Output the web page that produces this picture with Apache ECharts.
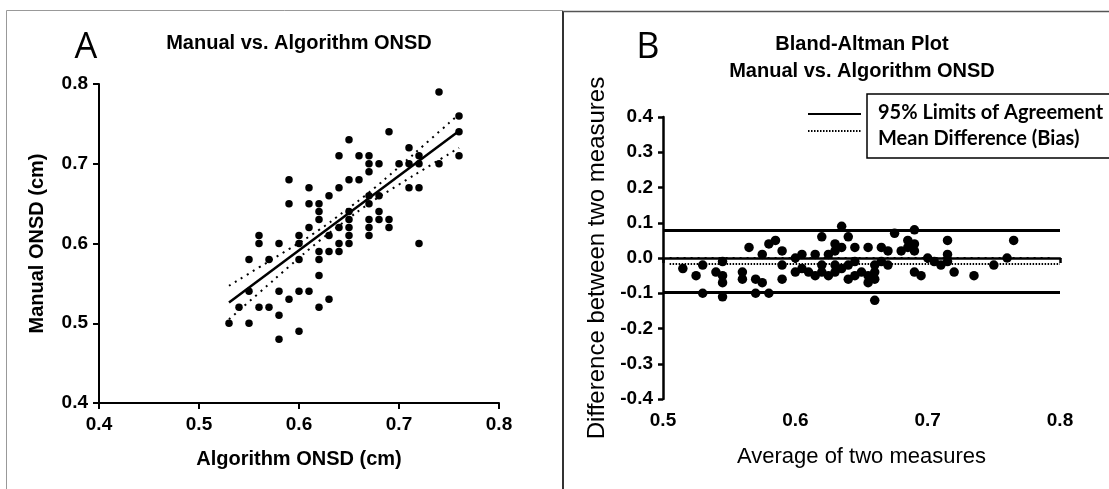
<!DOCTYPE html>
<html>
<head>
<meta charset="utf-8">
<script src="https://cdn.jsdelivr.net/npm/echarts@6/dist/echarts.min.js"></script>
<style>
html,body{margin:0;padding:0;background:#fff;}
#chart{width:1109px;height:489px;}
</style>
</head>
<body>
<div id="chart"></div>
<script>
// ---------- Panel A data (Algorithm vs Manual ONSD, cm) ----------
const algoONSD = [0.53,0.54,0.55,0.55,0.55,0.56,0.56,0.56,0.57,0.57,0.58,0.58,0.58,0.58,0.59,0.59,0.59,0.60,0.60,0.60,0.60,0.60,0.61,0.61,0.61,0.61,0.62,0.62,0.62,0.62,0.62,0.62,0.62,0.63,0.63,0.63,0.63,0.64,0.64,0.64,0.64,0.64,0.65,0.65,0.65,0.65,0.65,0.65,0.65,0.66,0.66,0.67,0.67,0.67,0.67,0.67,0.67,0.67,0.67,0.68,0.68,0.68,0.68,0.69,0.69,0.69,0.70,0.71,0.71,0.71,0.72,0.72,0.72,0.72,0.74,0.74,0.76,0.76,0.76];
const manualONSD = [0.50,0.52,0.58,0.54,0.50,0.61,0.60,0.52,0.58,0.52,0.60,0.54,0.51,0.48,0.68,0.65,0.53,0.61,0.60,0.58,0.54,0.49,0.67,0.65,0.62,0.54,0.65,0.64,0.63,0.59,0.58,0.56,0.52,0.66,0.61,0.59,0.53,0.71,0.67,0.62,0.60,0.59,0.73,0.68,0.64,0.63,0.62,0.61,0.60,0.71,0.68,0.71,0.70,0.69,0.66,0.65,0.63,0.62,0.61,0.70,0.66,0.64,0.63,0.74,0.63,0.62,0.70,0.72,0.70,0.67,0.71,0.70,0.67,0.60,0.79,0.70,0.76,0.74,0.71];
// regression line and its confidence band
const fitX = [0.53, 0.76];
const fitY = [0.526, 0.741];
const bandX = [0.53,0.56,0.59,0.62,0.645,0.67,0.70,0.73,0.76];
const bandUpper = [0.547,0.570,0.593,0.617,0.640,0.664,0.696,0.729,0.762];
const bandLower = [0.505,0.538,0.571,0.603,0.627,0.650,0.674,0.697,0.720];
const ticksA = [0.4,0.5,0.6,0.7,0.8];

// ---------- Panel B data (Bland-Altman) ----------
const baAverage = [0.515,0.53,0.565,0.545,0.525,0.585,0.58,0.54,0.575,0.545,0.59,0.56,0.545,0.53,0.635,0.62,0.56,0.605,0.60,0.59,0.57,0.545,0.64,0.63,0.615,0.575,0.635,0.63,0.625,0.605,0.60,0.59,0.57,0.645,0.62,0.61,0.58,0.675,0.655,0.63,0.62,0.615,0.69,0.665,0.645,0.64,0.635,0.63,0.625,0.685,0.67,0.69,0.685,0.68,0.665,0.66,0.65,0.645,0.64,0.69,0.67,0.66,0.655,0.715,0.66,0.655,0.70,0.715,0.705,0.69,0.715,0.71,0.695,0.66,0.765,0.72,0.76,0.75,0.735];
const baDifference = [-0.03,-0.02,0.03,-0.01,-0.05,0.05,0.04,-0.04,0.01,-0.05,0.02,-0.04,-0.07,-0.10,0.09,0.06,-0.06,0.01,0.00,-0.02,-0.06,-0.11,0.06,0.04,0.01,-0.07,0.03,0.02,0.01,-0.03,-0.04,-0.06,-0.10,0.03,-0.02,-0.04,-0.10,0.07,0.03,-0.02,-0.04,-0.05,0.08,0.03,-0.01,-0.02,-0.03,-0.04,-0.05,0.05,0.02,0.04,0.03,0.02,-0.01,-0.02,-0.04,-0.05,-0.06,0.02,-0.02,-0.04,-0.05,0.05,-0.06,-0.07,0.00,0.01,-0.01,-0.04,-0.01,-0.02,-0.05,-0.12,0.05,-0.04,0.00,-0.02,-0.05];
const loaUpper = 0.078;
const loaLower = -0.098;
const meanBias = -0.017;
const loaRange = [0.5, 0.8];
const biasRange = [0.505, 0.8];
const zeroRange = [0.505, 0.795];
const ticksBx = [0.5,0.6,0.7,0.8];
const ticksBy = [-0.4,-0.3,-0.2,-0.1,0.0,0.1,0.2,0.3,0.4];

const legendLabels = ['95% Limits of Agreement', 'Mean Difference (Bias)'];

// ---------- build ----------
const zip = (xs, ys) => xs.map((x, i) => [x, ys[i]]);
const hline = (range, y) => range.map(x => [x, y]);
const F = 'Arial, "Liberation Sans", Helvetica, sans-serif';
const fmt1 = v => (Math.abs(v) < 1e-9 ? 0 : v).toFixed(1);

const chart = echarts.init(document.getElementById('chart'), null, {renderer: 'canvas'});

const axisCommonA = {
  axisLine: {lineStyle: {color: '#000', width: 2}},
  axisTick: {show: true, length: 6, lineStyle: {color: '#000', width: 2}},
  splitLine: {show: false},
  interval: 0.1
};
const axisCommonB = {
  axisLine: {lineStyle: {color: '#000', width: 2.5}},
  axisTick: {show: true, length: 5, lineStyle: {color: '#000', width: 2.5}},
  splitLine: {show: false},
  interval: 0.1
};

const option = {
  animation: false,
  backgroundColor: '#fff',
  grid: [
    {left: 99, top: 84, width: 400, height: 319},
    {left: 663, top: 117, width: 397, height: 282}
  ],
  xAxis: [
    Object.assign({}, axisCommonA, {
      gridIndex: 0, type: 'value', min: ticksA[0], max: ticksA[ticksA.length - 1],
      name: 'Algorithm ONSD (cm)', nameLocation: 'middle', nameGap: 46,
      nameTextStyle: {fontFamily: F, fontWeight: 'bold', fontSize: 20, color: '#000'},
      axisLabel: {margin: 12, fontFamily: F, fontWeight: 'bold', fontSize: 19, color: '#000', formatter: fmt1}
    }),
    Object.assign({}, axisCommonB, {
      gridIndex: 1, type: 'value', min: ticksBx[0], max: ticksBx[ticksBx.length - 1],
      name: 'Average of two measures', nameLocation: 'middle', nameGap: 47,
      nameTextStyle: {fontFamily: F, fontWeight: 'normal', fontSize: 22, color: '#000'},
      axisLabel: {margin: 12, fontFamily: F, fontWeight: 'bold', fontSize: 19, color: '#000', formatter: fmt1}
    })
  ],
  yAxis: [
    Object.assign({}, axisCommonA, {
      gridIndex: 0, type: 'value', min: ticksA[0], max: ticksA[ticksA.length - 1],
      name: 'Manual ONSD (cm)', nameLocation: 'middle', nameGap: 52,
      nameTextStyle: {fontFamily: F, fontWeight: 'bold', fontSize: 20, color: '#000'},
      axisLabel: {margin: 11, fontFamily: F, fontWeight: 'bold', fontSize: 19, color: '#000', formatter: fmt1}
    }),
    Object.assign({}, axisCommonB, {
      gridIndex: 1, type: 'value', min: ticksBy[0], max: ticksBy[ticksBy.length - 1],
      name: 'Difference between two measures', nameLocation: 'middle', nameGap: 54,
      nameTextStyle: {fontFamily: F, fontWeight: 'normal', fontSize: 24, color: '#000'},
      axisLabel: {margin: 10, fontFamily: F, fontWeight: 'bold', fontSize: 19, color: '#000', formatter: fmt1}
    })
  ],
  series: [
    {type: 'line', xAxisIndex: 0, yAxisIndex: 0, data: zip(fitX, fitY), symbol: 'none', silent: true,
     lineStyle: {color: '#000', width: 2.5}, z: 3},
    {type: 'line', xAxisIndex: 0, yAxisIndex: 0, data: zip(bandX, bandUpper), symbol: 'none', smooth: true, silent: true,
     lineStyle: {color: '#000', width: 2, type: [2, 5], cap: 'butt'}, z: 3},
    {type: 'line', xAxisIndex: 0, yAxisIndex: 0, data: zip(bandX, bandLower), symbol: 'none', smooth: true, silent: true,
     lineStyle: {color: '#000', width: 2, type: [2, 5], cap: 'butt'}, z: 3},
    {type: 'scatter', xAxisIndex: 0, yAxisIndex: 0, data: zip(algoONSD, manualONSD), symbol: 'circle', symbolSize: 7.5,
     itemStyle: {color: '#000', opacity: 1}, silent: true, z: 4},

    {name: legendLabels[0], type: 'line', xAxisIndex: 1, yAxisIndex: 1, data: hline(loaRange, loaUpper), symbol: 'none', silent: true,
     lineStyle: {color: '#000', width: 3}, z: 3},
    {name: legendLabels[0], type: 'line', xAxisIndex: 1, yAxisIndex: 1, data: hline(loaRange, loaLower), symbol: 'none', silent: true,
     lineStyle: {color: '#000', width: 3}, z: 3},
    {name: legendLabels[1], type: 'line', xAxisIndex: 1, yAxisIndex: 1, data: hline(biasRange, meanBias), symbol: 'none', silent: true,
     lineStyle: {color: '#000', width: 2, type: [1.5, 1.5], cap: 'butt'}, z: 3},
    {type: 'line', xAxisIndex: 1, yAxisIndex: 1, data: hline(zeroRange, 0), symbol: 'none', silent: true,
     lineStyle: {color: '#000', width: 2, type: [2, 5], cap: 'butt'}, z: 3},
    {type: 'scatter', xAxisIndex: 1, yAxisIndex: 1, data: zip(baAverage, baDifference), symbol: 'circle', symbolSize: 9.5,
     itemStyle: {color: '#000', opacity: 1}, silent: true, z: 4}
  ],
  graphic: [
    // panel frames
    {type: 'polyline', shape: {points: [[6.5, 489], [6.5, 10.5], [563, 10.5]]}, style: {stroke: '#999', lineWidth: 1, fill: null}, silent: true},
    {type: 'line', shape: {x1: 563, y1: 11, x2: 563, y2: 489}, style: {stroke: '#333', lineWidth: 2}, silent: true},
    {type: 'line', shape: {x1: 563, y1: 11.5, x2: 1109, y2: 11.5}, style: {stroke: '#555', lineWidth: 1.5}, silent: true},
    // panel letters and titles
    {type: 'text', x: 86, y: 48, style: {text: 'A', font: 'normal 36px "Open Sans", sans-serif', fill: '#000', textAlign: 'center', textVerticalAlign: 'middle'}, silent: true},
    {type: 'text', x: 299, y: 43, style: {text: 'Manual vs. Algorithm ONSD', font: 'bold 20px ' + F, fill: '#000', textAlign: 'center', textVerticalAlign: 'middle'}, silent: true},
    {type: 'text', x: 648, y: 48, style: {text: 'B', font: 'normal 36px "Open Sans", sans-serif', fill: '#000', textAlign: 'center', textVerticalAlign: 'middle'}, silent: true},
    {type: 'text', x: 862, y: 44, style: {text: 'Bland-Altman Plot', font: 'bold 20px ' + F, fill: '#000', textAlign: 'center', textVerticalAlign: 'middle'}, silent: true},
    {type: 'text', x: 862, y: 71, style: {text: 'Manual vs. Algorithm ONSD', font: 'bold 20px ' + F, fill: '#000', textAlign: 'center', textVerticalAlign: 'middle'}, silent: true},
    // legend
    {type: 'rect', shape: {x: 867, y: 94, width: 260, height: 64}, style: {fill: '#fff', stroke: '#000', lineWidth: 1.5}, silent: true, z: 10},
    {type: 'line', shape: {x1: 808, y1: 114, x2: 861, y2: 114}, style: {stroke: '#000', lineWidth: 2}, silent: true, z: 10},
    {type: 'line', shape: {x1: 808, y1: 131, x2: 861, y2: 131}, style: {stroke: '#000', lineWidth: 2, lineDash: [1.5, 1.5]}, silent: true, z: 10},
    {type: 'text', x: 878, y: 113, style: {text: legendLabels[0], font: 'bold 20px Lato, "Open Sans", sans-serif', fill: '#000', textAlign: 'left', textVerticalAlign: 'middle'}, silent: true, z: 11},
    {type: 'text', x: 878, y: 139, style: {text: legendLabels[1], font: 'bold 20px Lato, "Open Sans", sans-serif', fill: '#000', textAlign: 'left', textVerticalAlign: 'middle'}, silent: true, z: 11}
  ]
};
chart.setOption(option);
</script>
</body>
</html>
